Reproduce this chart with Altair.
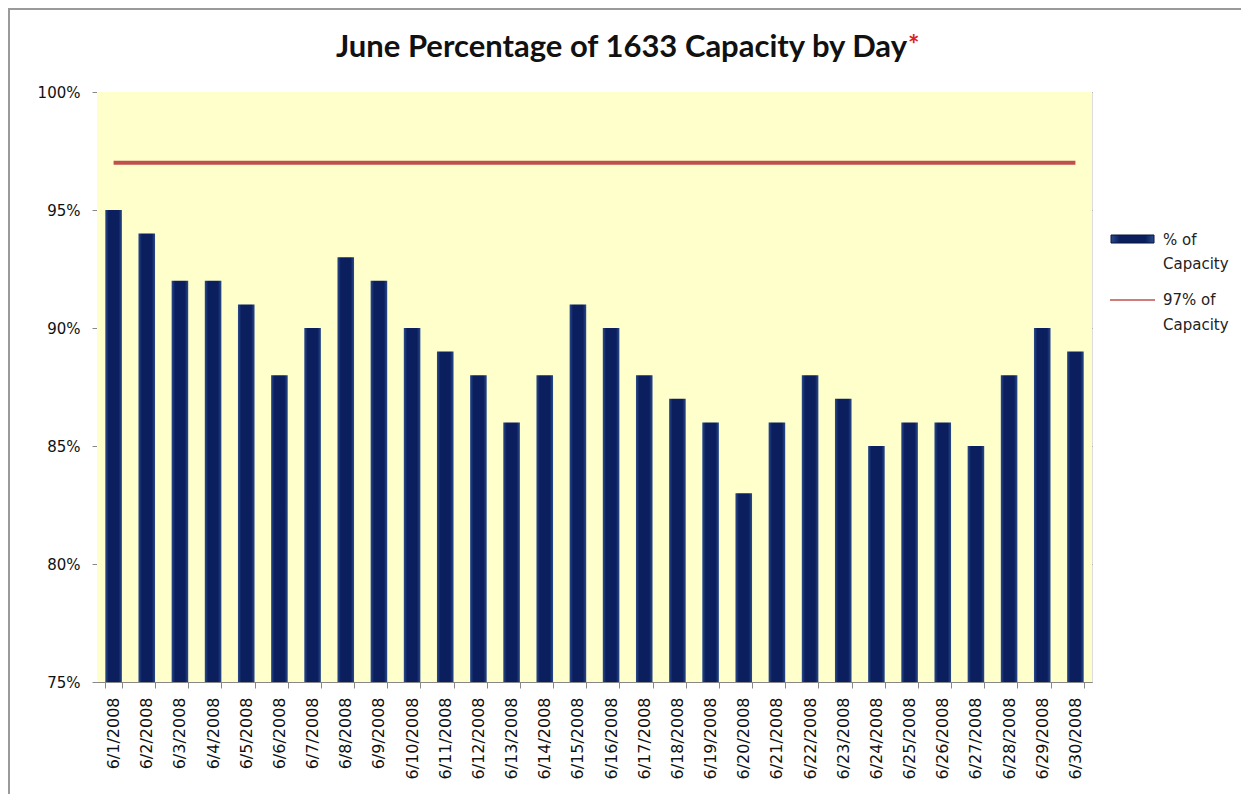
import altair as alt
import pandas as pd

days = [f"6/{d}/2008" for d in range(1, 31)]
pct_capacity = [95, 94, 92, 92, 91, 88, 90, 93, 92, 90, 89, 88, 86, 88, 91,
                90, 88, 87, 86, 83, 86, 88, 87, 85, 86, 86, 85, 88, 90, 89]
target = [97] * 30
y_ticks = [75, 80, 85, 90, 95, 100]

df = pd.DataFrame({"day": days, "pct": pct_capacity, "target": target})

W, H = 995, 590
FONT = "DejaVu Sans"

x_enc = alt.X("day:N", sort=days, title=None,
              scale=alt.Scale(paddingInner=0.5, paddingOuter=0.25),
              axis=alt.Axis(labelAngle=-90, labelFont=FONT, labelFontSize=16,
                            labelColor="#111111", labelPadding=9,
                            tickBand="extent", tickSize=6, tickColor="#888888",
                            domainColor="#888888", grid=False))
y_scale = alt.Scale(domain=[75, 100], zero=False, nice=False)
y_axis = alt.Axis(values=y_ticks, labelExpr="datum.value + '%'", labelFont=FONT,
                  labelFontSize=15, labelColor="#111111", labelPadding=12,
                  tickSize=5, tickColor="#888888", domainColor="#888888",
                  grid=True, gridColor="#8a8a8a", gridWidth=1, title=None)

bar_fill = {"x1": 0, "y1": 0, "x2": 1, "y2": 0, "gradient": "linear",
            "stops": [{"offset": 0, "color": "#2a4a8c"},
                      {"offset": 0.2, "color": "#0b1f5e"},
                      {"offset": 0.8, "color": "#0b1f5e"},
                      {"offset": 1, "color": "#2a4a8c"}]}

one = pd.DataFrame({"a": [0]})

plot_bg = alt.Chart(one).mark_rect(fill="#ffffcc").encode(
    x=alt.value(0), x2=alt.value(W), y=alt.value(0), y2=alt.value(H))

base = alt.Chart(df)

bars = base.mark_bar(fill=bar_fill, clip=True).encode(
    x=x_enc,
    y=alt.Y("pct:Q", scale=y_scale, axis=y_axis),
    y2=alt.datum(75),
)

line = base.mark_line(color="#c0504d", strokeWidth=4).encode(
    x=alt.X("day:N", sort=days),
    y=alt.Y("target:Q", scale=y_scale),
)

title_main = alt.Chart(pd.DataFrame({"t": ["June Percentage of 1633 Capacity by Day"]})).mark_text(
    font="Lato", fontSize=31, fontWeight="bold", color="#111111", align="right", baseline="middle"
).encode(x=alt.value(810), y=alt.value(-44), text="t:N")
title_star = alt.Chart(pd.DataFrame({"t": ["*"]})).mark_text(
    font="Lato", fontSize=27, fontWeight="bold", color="#e02020", align="left", baseline="middle"
).encode(x=alt.value(811), y=alt.value(-46), text="t:N")

legend_rect = alt.Chart(one).mark_rect(
    fill=bar_fill, stroke="#06143f", strokeWidth=1
).encode(x=alt.value(1014), x2=alt.value(1057), y=alt.value(143), y2=alt.value(151))
legend_rule = alt.Chart(one).mark_rule(
    color="#c0504d", strokeWidth=1.5
).encode(x=alt.value(1013), x2=alt.value(1058), y=alt.value(208))

leg_labels = pd.DataFrame({
    "t": ["% of", "Capacity", "97% of", "Capacity"],
    "yy": [148, 172, 208, 233],
})
legend_text = alt.Chart(leg_labels).mark_text(
    font=FONT, fontSize=15, color="#222222", align="left", baseline="middle"
).encode(x=alt.value(1066), y=alt.Y("yy:Q", scale=None), text="t:N")

frame = alt.Chart(one).mark_rect(
    fillOpacity=0, stroke="#9a9a9a", strokeWidth=2, clip=False
).encode(x=alt.value(-88), x2=alt.value(1150), y=alt.value(-83), y2=alt.value(720))

chart = alt.layer(
    plot_bg, bars, line, title_main, title_star, legend_rect, legend_rule, legend_text, frame
).properties(
    width=W, height=H,
    autosize=alt.AutoSizeParams(type="none"),
    padding={"left": 89, "top": 84, "right": 149, "bottom": 112},
).configure_view(
    stroke=None
).configure(background="white")

chart.save("out.html", embed_options={"renderer": "svg", "actions": False})
